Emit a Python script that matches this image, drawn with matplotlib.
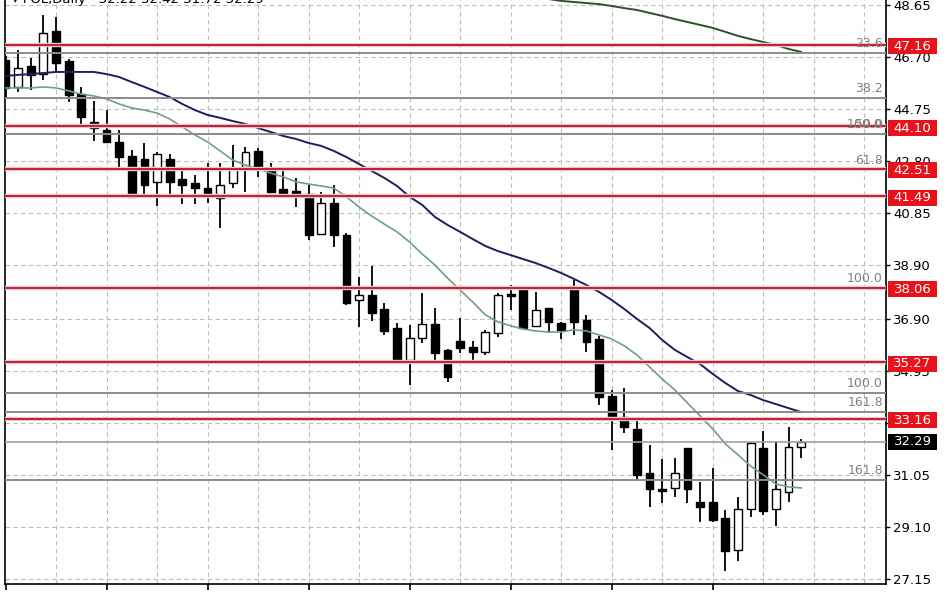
import matplotlib
matplotlib.use("Agg")
import matplotlib.pyplot as plt
import matplotlib.transforms as mtransforms
from matplotlib.patches import Rectangle

# ---------------- data ----------------
opens = [46.59, 45.58, 46.36, 46.06, 47.67, 46.55, 45.31, 44.27, 43.97, 43.52,
         42.99, 42.88, 42.02, 42.88, 42.13, 41.98, 41.79, 41.42, 41.98, 42.58,
         43.18, 42.51, 41.76, 41.68, 41.57, 40.07, 41.23, 40.03, 37.60, 37.79,
         37.26, 36.55, 35.35, 36.18, 36.70, 35.73, 36.06, 35.84, 35.65, 36.36,
         37.82, 38.01, 36.63, 37.30, 36.74, 38.01, 36.85, 36.14, 34.00, 33.22,
         32.77, 31.12, 30.52, 30.56, 32.06, 30.03, 30.03, 29.44, 28.24, 29.77,
         32.06, 29.77, 30.41, 32.09]
highs = [46.74, 46.96, 46.66, 48.27, 48.20, 46.62, 45.58, 45.05, 44.71, 43.97,
         43.22, 43.48, 43.14, 43.07, 42.58, 42.28, 42.73, 42.73, 43.40, 43.33,
         43.29, 42.73, 42.54, 42.17, 41.91, 41.64, 41.91, 40.11, 38.46, 38.87,
         37.49, 36.74, 36.66, 37.86, 37.30, 35.76, 36.92, 36.06, 36.48, 37.86,
         38.16, 38.01, 37.90, 37.30, 36.78, 38.35, 37.04, 36.25, 34.23, 34.30,
         33.18, 32.17, 31.64, 31.68, 32.06, 30.78, 31.31, 29.73, 30.22, 32.28,
         32.69, 32.32, 32.84, 32.39]
lows = [45.13, 45.39, 45.46, 45.84, 46.14, 45.01, 44.04, 43.55, 43.48, 42.54,
        41.46, 41.46, 41.12, 41.53, 41.19, 41.19, 41.23, 40.30, 41.79, 41.64,
        42.21, 41.61, 41.46, 41.08, 39.85, 40.03, 39.58, 37.41, 36.59, 36.81,
        36.29, 35.24, 34.42, 35.99, 35.24, 34.53, 35.61, 35.24, 35.54, 36.21,
        37.22, 36.55, 36.59, 36.36, 36.14, 36.29, 35.65, 33.67, 31.98, 32.62,
        30.86, 29.85, 30.00, 30.22, 30.00, 29.29, 29.29, 27.45, 27.83, 29.47,
        29.55, 29.14, 30.03, 31.68]
closes = [45.54, 46.29, 46.03, 47.60, 46.47, 45.28, 44.45, 44.04, 43.52, 42.95,
          41.46, 41.91, 43.07, 42.02, 41.91, 41.79, 41.49, 41.91, 42.54, 43.14,
          42.54, 41.64, 41.61, 41.57, 40.03, 41.23, 40.03, 37.49, 37.79, 37.11,
          36.44, 35.35, 36.18, 36.70, 35.61, 34.72, 35.80, 35.65, 36.40, 37.79,
          37.75, 36.55, 37.22, 36.78, 36.48, 36.78, 36.03, 33.97, 33.18, 32.84,
          31.05, 30.52, 30.45, 31.12, 30.52, 29.85, 29.36, 28.20, 29.77, 32.24,
          29.70, 30.52, 32.09, 32.29]

ma_slow = [45.99, 46.03, 46.06, 46.10, 46.14, 46.14, 46.14, 46.14, 46.06, 45.95,
           45.76, 45.58, 45.39, 45.20, 44.94, 44.71, 44.53, 44.42, 44.30, 44.19,
           44.04, 43.89, 43.74, 43.63, 43.48, 43.37, 43.18, 42.95, 42.69, 42.43,
           42.17, 41.87, 41.46, 41.16, 40.71, 40.41, 40.15, 39.88, 39.62, 39.43,
           39.28, 39.13, 38.98, 38.80, 38.61, 38.39, 38.16, 37.90, 37.60, 37.26,
           36.89, 36.55, 36.10, 35.73, 35.46, 35.20, 34.83, 34.49, 34.19, 34.04,
           33.85, 33.70, 33.55, 33.40]
ma_fast = [45.54, 45.54, 45.54, 45.58, 45.54, 45.43, 45.31, 45.24, 45.13, 44.94,
           44.79, 44.71, 44.60, 44.38, 44.08, 43.78, 43.52, 43.18, 42.84, 42.65,
           42.51, 42.35, 42.21, 42.02, 41.94, 41.87, 41.79, 41.46, 41.08, 40.74,
           40.44, 40.15, 39.77, 39.32, 38.91, 38.42, 37.97, 37.52, 37.04, 36.78,
           36.63, 36.51, 36.44, 36.40, 36.40, 36.48, 36.44, 36.29, 36.14, 35.88,
           35.54, 35.09, 34.64, 34.23, 33.74, 33.26, 32.77, 32.21, 31.80, 31.38,
           31.05, 30.71, 30.60, 30.56]
ma_long_start = 43
ma_long = [48.87, 48.80, 48.76, 48.72, 48.68, 48.61, 48.53, 48.46, 48.35, 48.24,
           48.12, 48.01, 47.90, 47.79, 47.64, 47.49, 47.37, 47.26, 47.15, 47.00,
           46.89]

red_levels = [47.16, 44.10, 42.51, 41.49, 38.06, 35.27, 33.16]
red_labels = ["47.16", "44.10", "42.51", "41.49", "38.06", "35.27", "33.16"]
fib_levels = [46.85, 45.16, 43.82, 43.82, 42.45, 38.04, 34.12, 33.40, 30.86]
fib_labels = ["23.6", "38.2", "100.0", "50.0", "61.8", "100.0", "100.0", "161.8", "161.8"]
last_price = 32.29
last_label = "32.29"
ytick_labels = ["27.15", "29.10", "31.05", "33.00", "34.95", "36.90", "38.90",
                "40.85", "42.80", "44.75", "46.70", "48.65"]
title_text = "\u25be FOL,Daily   32.22 32.42 31.72 32.29"

# ---------------- figure ----------------
W, H = 948, 593
fig = plt.figure(figsize=(W / 100, H / 100), dpi=100)
fig.patch.set_facecolor("white")
ax_left, ax_right, ax_bottom = 5, 886, 584
ax = fig.add_axes([ax_left / W, (H - ax_bottom) / H, (ax_right - ax_left) / W, ax_bottom / H])
ax.set_facecolor("white")

n = len(closes)
idx = list(range(n))
ax.set_xlim(-0.04, 69.72)
ax.set_ylim(26.963, 48.834)

# grid
yt = [float(s) for s in ytick_labels]
for v in yt:
    ax.axhline(v, color="#bdbdbd", lw=0.8, ls=(0, (4, 3)), zorder=1)
for k in range(4, 70, 4):
    ax.axvline(k, color="#bdbdbd", lw=0.8, ls=(0, (4, 3)), zorder=1)

# candles
body_w = 0.62
for i in idx:
    ax.vlines(i, lows[i], highs[i], color="black", lw=1.3, zorder=4)
bottoms = [min(o, c) for o, c in zip(opens, closes)]
heights = [max(abs(c - o), 0.045) for o, c in zip(opens, closes)]
fcs = ["white" if c > o else "black" for o, c in zip(opens, closes)]
ax.bar(idx, heights, bottom=bottoms, width=body_w, color=fcs, edgecolor="black",
       linewidth=1.0, zorder=5)

# moving averages
ax.plot(idx, ma_slow, color="#1e1e5c", lw=1.4, zorder=6)
ax.plot(idx, ma_fast, color="#6f9f88", lw=1.2, zorder=6)
ax.plot(list(range(ma_long_start, ma_long_start + len(ma_long))), ma_long,
        color="#2f4f2a", lw=1.4, zorder=6)

# level lines
for v in fib_levels:
    ax.axhline(v, color="#8c8c8c", lw=1.4, zorder=7)
ax.axhline(last_price, color="#a0a0a0", lw=1.2, zorder=7)
for v in red_levels:
    ax.axhline(v, color="#f0ccd2", lw=3.2, zorder=7.5)
    ax.axhline(v, color="#b8283a", lw=1.5, zorder=8)

# fib labels
blend = mtransforms.blended_transform_factory(ax.transAxes, ax.transData)
for v, s in zip(fib_levels, fib_labels):
    ax.annotate(s, xy=(0.9966, v), xycoords=blend, xytext=(0, 7),
                textcoords="offset points", ha="right", va="center",
                fontsize=9, color="#808080", zorder=9)

# axes styling
ax.spines["top"].set_visible(False)
for sp in ["left", "right", "bottom"]:
    ax.spines[sp].set_color("black")
    ax.spines[sp].set_linewidth(1.2)
ax.yaxis.tick_right()
ax.set_yticks(yt)
ax.set_yticklabels(ytick_labels)
ax.tick_params(axis="y", direction="out", length=3, width=1, pad=2,
               labelsize=9.5, colors="black", left=False)
ax.set_xticks(list(range(0, 64, 8)))
ax.set_xticklabels([])
ax.tick_params(axis="x", direction="out", length=4, width=1.2, colors="black")

# price boxes on right axis
px_w = ax_right - ax_left
bx0 = (888 - ax_left) / px_w
bx1 = (937 - ax_left) / px_w
bh = 16 / 26.7
for v, s in zip(red_levels, red_labels):
    ax.add_patch(Rectangle((bx0, v - bh / 2 - 0.06), bx1 - bx0, bh, transform=blend,
                           facecolor="#e8121c", edgecolor="none", clip_on=False, zorder=10))
    ax.text((bx0 + bx1) / 2, v - 0.06, s, transform=blend, ha="center", va="center",
            fontsize=9.5, color="white", zorder=11, clip_on=False)
ax.add_patch(Rectangle((bx0, last_price - bh / 2), bx1 - bx0, bh, transform=blend,
                       facecolor="black", edgecolor="none", clip_on=False, zorder=10))
ax.text((bx0 + bx1) / 2, last_price, last_label, transform=blend, ha="center",
        va="center", fontsize=9.5, color="white", zorder=11, clip_on=False)

# cut-off title at the very top
fig.text(12 / W, 1 - 3.5 / H, title_text, ha="left", va="baseline", fontsize=9.5,
         color="black")

fig.savefig("out.png", dpi=100, facecolor="white")
